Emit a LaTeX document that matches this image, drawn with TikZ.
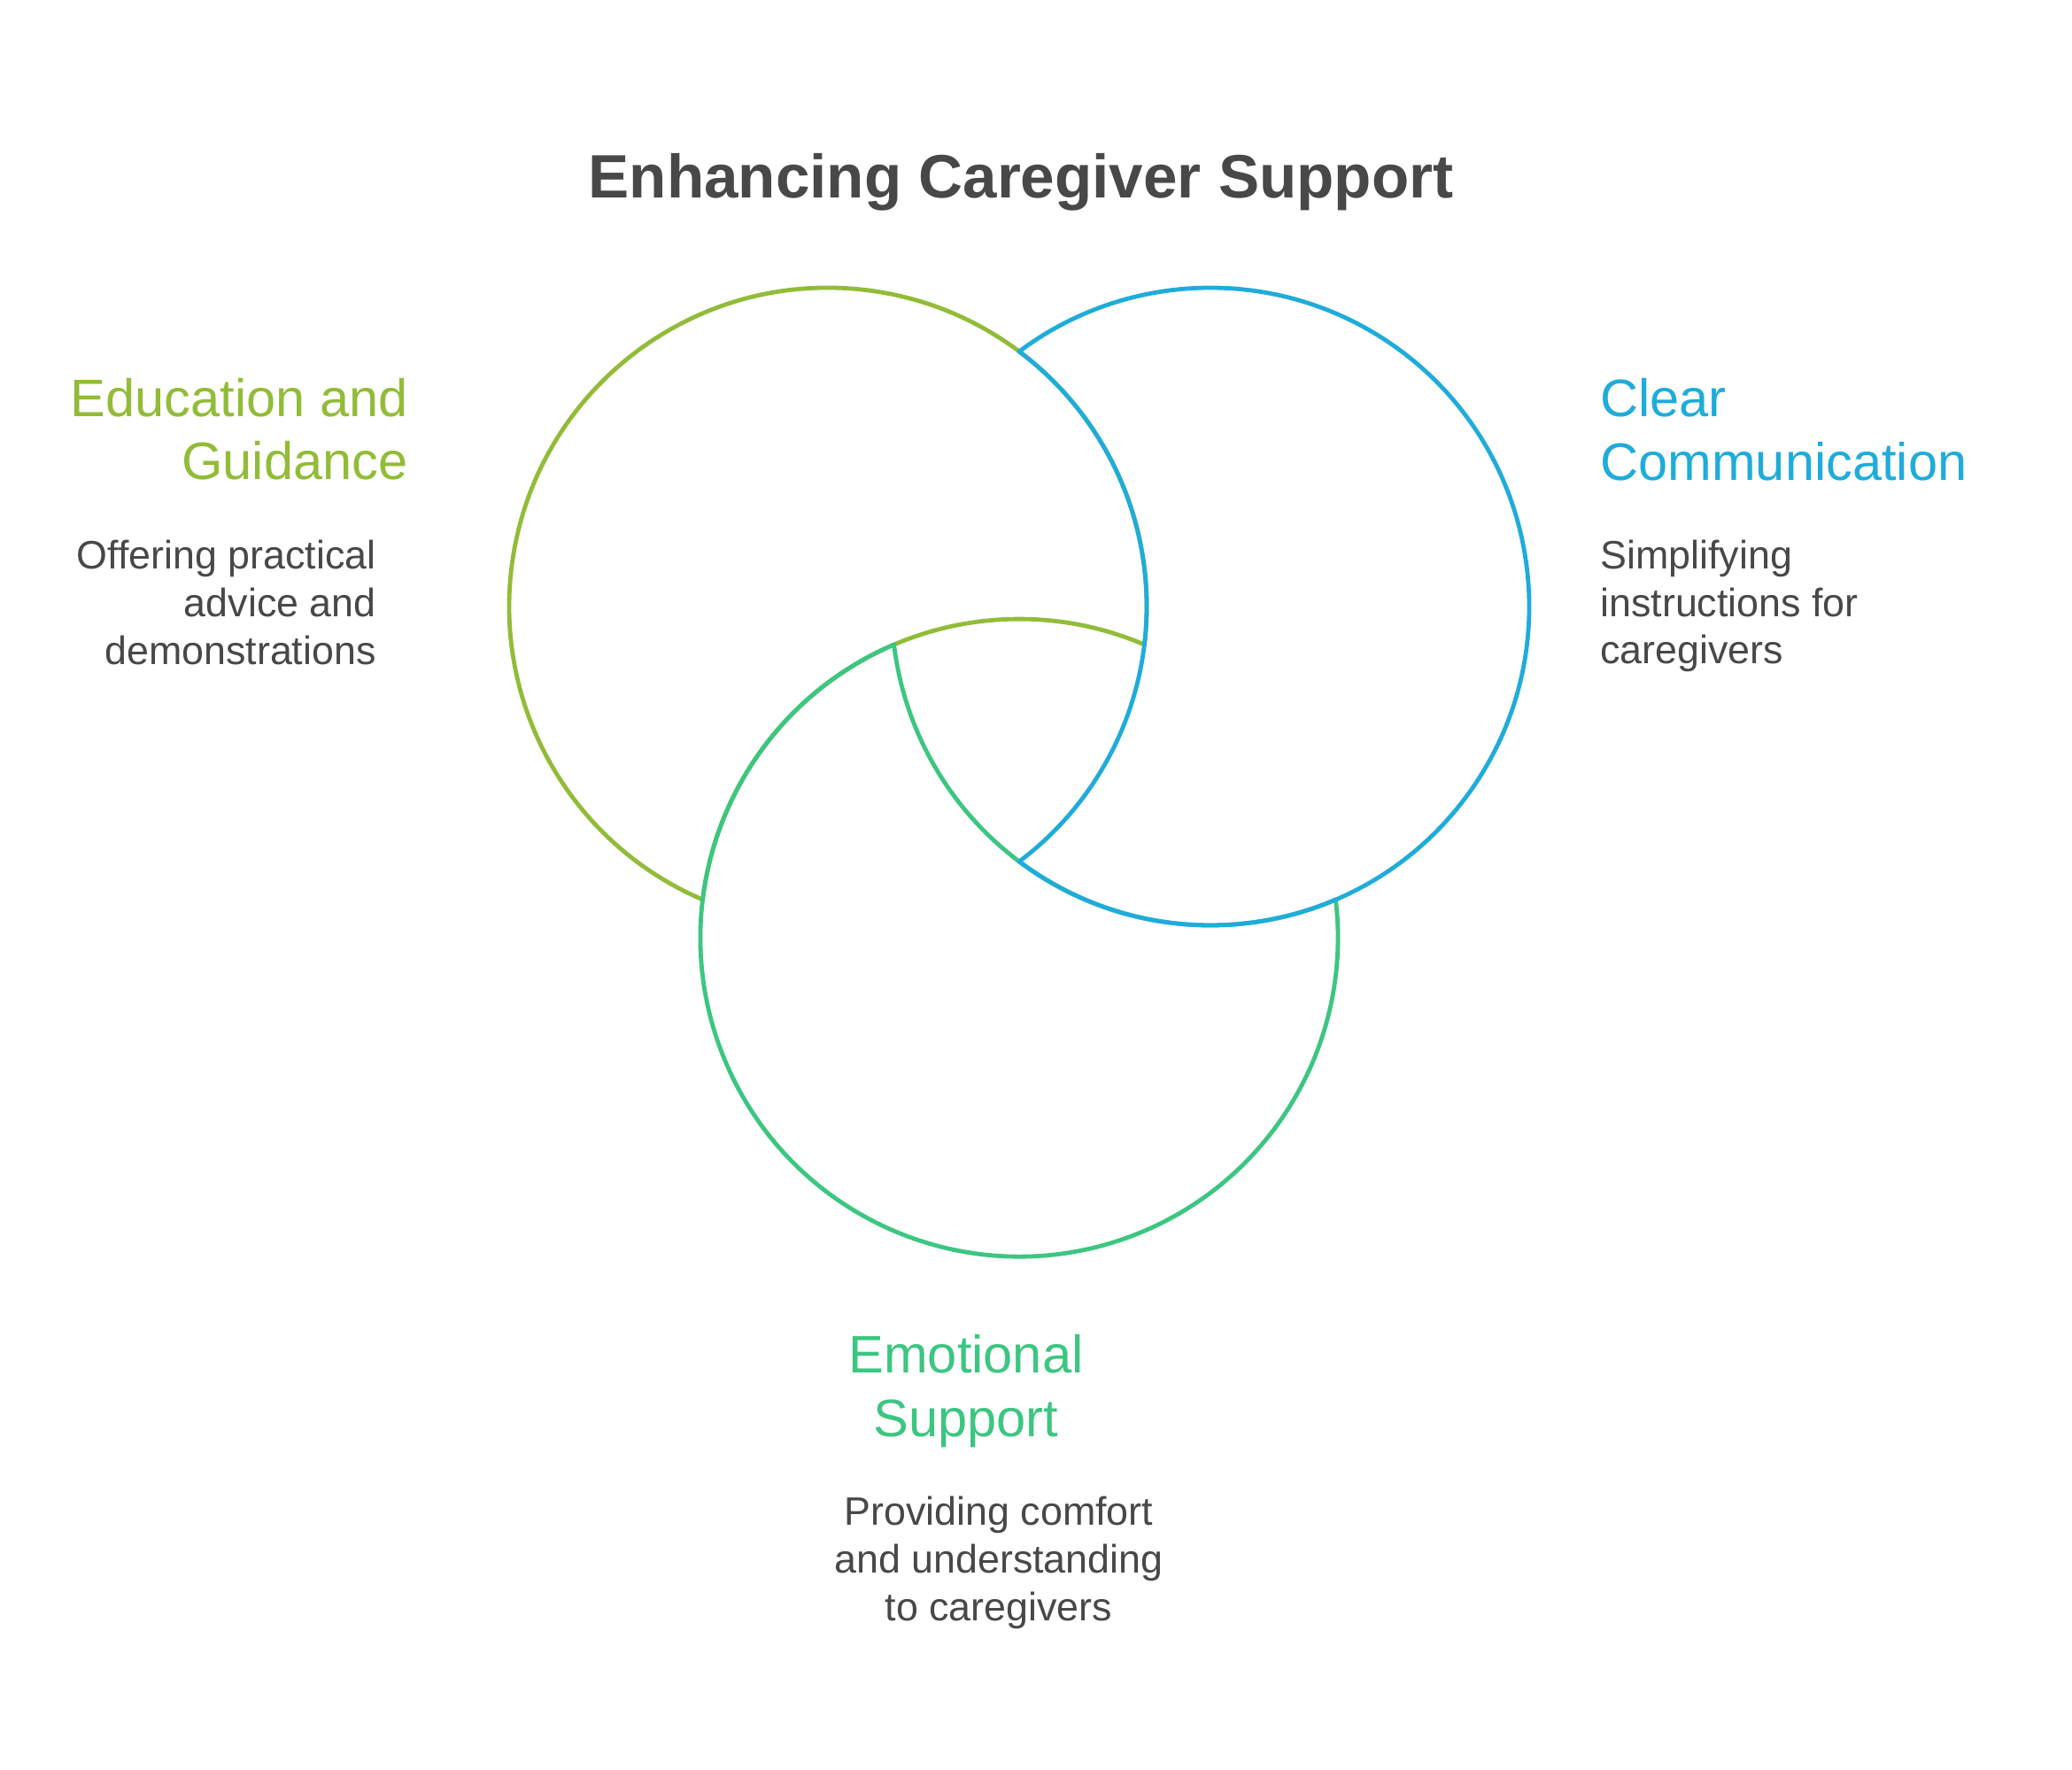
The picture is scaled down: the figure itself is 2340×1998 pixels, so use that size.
\documentclass[tikz,border=0pt]{standalone}
\usepackage{fontspec}
\setmainfont{Liberation Sans}
\definecolor{cedu}{HTML}{92BC38}
\definecolor{cclr}{HTML}{1FACDA}
\definecolor{cemo}{HTML}{3CC681}
\definecolor{ctxt}{HTML}{484848}
\begin{document}
\begin{tikzpicture}[x=0.5pt,y=0.5pt,
  ring/.style={line width=2.4pt,line cap=round},
  ttl/.style={inner sep=0pt,anchor=base,text=ctxt,font=\fontsize{34.6}{40}\selectfont\bfseries},
  head/.style={inner sep=0pt,font=\fontsize{29.8}{35}\selectfont},
  body/.style={inner sep=0pt,text=ctxt,font=\fontsize{22.4}{27}\selectfont}]
\useasboundingbox[fill=white] (0,0) rectangle (2340,1998);
\coordinate (A) at (935,1313);
\coordinate (B) at (1367,1313);
\coordinate (C) at (1151,938.9);
% Education crescent (A minus C)
\draw[ring,cedu] (A) ++(-6.87:180pt) arc[start angle=-6.87,end angle=246.87,radius=180pt];
\draw[ring,cedu] (C) ++(66.87:180pt) arc[start angle=66.87,end angle=173.13,radius=180pt];
% Emotional crescent (C minus B)
\draw[ring,cemo] (C) ++(113.13:180pt) arc[start angle=113.13,end angle=366.87,radius=180pt];
\draw[ring,cemo] (B) ++(186.87:180pt) arc[start angle=186.87,end angle=293.13,radius=180pt];
% Clear communication crescent (B minus A)
\draw[ring,cclr] (B) ++(-126.87:180pt) arc[start angle=-126.87,end angle=126.87,radius=180pt];
\draw[ring,cclr] (A) ++(-53.13:180pt) arc[start angle=-53.13,end angle=53.13,radius=180pt];
% Title
\node[ttl] (title) at (1153,1774.7) {Enhancing Caregiver Support};
% Education
\node[head,text=cedu,anchor=base east] (eh1) at (461,1527.3) {Education and};
\node[head,text=cedu,anchor=base east] (eh2) at (461,1456.3) {Guidance};
\node[body,anchor=base east] (eb1) at (425,1355.3) {Offering practical};
\node[body,anchor=base east] (eb2) at (425,1301.3) {advice and};
\node[body,anchor=base east] (eb3) at (425,1247.3) {demonstrations};
% Clear communication
\node[head,text=cclr,anchor=base west] (ch1) at (1807,1527.3) {Clear};
\node[head,text=cclr,anchor=base west] (ch2) at (1807,1455.3) {Communication};
\node[body,anchor=base west] (cb1) at (1807,1355.3) {Simplifying};
\node[body,anchor=base west] (cb2) at (1807,1301.3) {instructions for};
\node[body,anchor=base west] (cb3) at (1807,1248) {caregivers};
% Emotional support
\node[head,text=cemo,anchor=base] (mh1) at (1091,447.3) {Emotional};
\node[head,text=cemo,anchor=base] (mh2) at (1091,375.3) {Support};
\node[body,anchor=base] (mb1) at (1128,275.3) {Providing comfort};
\node[body,anchor=base] (mb2) at (1128,221.3) {and understanding};
\node[body,anchor=base] (mb3) at (1128,167.3) {to caregivers};
\end{tikzpicture}
\end{document}
